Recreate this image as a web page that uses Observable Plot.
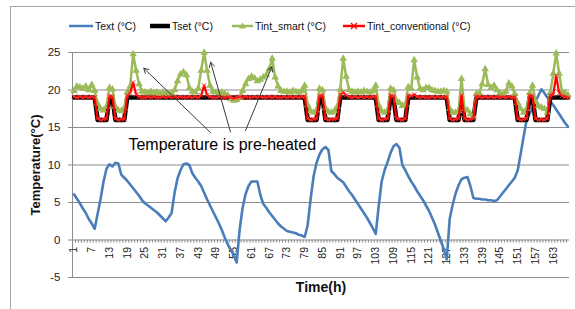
<!DOCTYPE html>
<html><head><meta charset="utf-8">
<script src="https://cdn.jsdelivr.net/npm/d3@7"></script>
<script src="https://cdn.jsdelivr.net/npm/@observablehq/plot@0.6"></script>
<style>
html,body{margin:0;padding:0;background:#fff;overflow:hidden;}
#wrap{position:relative;width:575px;height:309px;overflow:hidden;font-family:"Liberation Sans",Arial,sans-serif;background:#fff;}
#wrap > svg{position:absolute;left:0;top:0;}
#frame{position:absolute;left:10px;top:6px;width:580px;height:320px;border-left:1px solid #a6a6a6;border-top:1px solid #a6a6a6;pointer-events:none;}
.item{position:absolute;top:19px;display:flex;align-items:center;font-size:10.5px;line-height:14px;white-space:nowrap;color:#111;}
.item svg{margin-right:2px;display:block;}
</style></head><body>
<div id="wrap"><div id="frame"></div></div>
<script>
// ---- data ----
const hours = d3.range(1, 169);
const xTickLabels = [1,7,13,19,25,31,37,43,49,55,61,67,73,79,85,91,97,103,109,115,121,127,133,139,145,151,157,163];
const yTicks = [-5,0,5,10,15,20,25];
const seriesNames = ["Text (°C)", "Tset (°C)", "Tint_smart (°C)", "Tint_conventional (°C)"];

const textOut = [
  6.1,5.5,4.9,4.2,3.6,2.8,2.2,1.5,3.5,5.5,7.8,9.5,10.1,9.8,10.3,10.2,8.7,8.3,7.9,7.4,6.9,6.4,5.9,5.3,
  4.9,4.6,4.3,4.0,3.7,3.3,2.9,2.5,3.0,3.6,6.3,8.2,9.3,10.1,10.2,10.0,8.9,8.3,7.8,7.2,6.3,5.4,4.6,3.8,
  3.0,2.2,1.3,0.3,-0.6,-1.3,-2.0,-3.0,1.4,4.3,6.1,7.2,7.8,7.8,7.8,6.0,4.8,4.3,3.7,3.2,2.7,2.2,1.8,1.5,
  1.2,1.1,1.0,0.9,0.7,0.6,0.4,2.0,5.5,8.5,10.3,11.4,12.1,12.4,12.0,9.2,8.8,8.3,8.0,7.7,7.1,6.5,6.0,5.4,
  4.8,4.2,3.6,3.0,2.3,1.6,0.8,4.5,7.8,9.3,10.4,11.6,12.5,12.8,12.3,10.0,9.3,8.5,7.8,7.2,6.5,5.9,5.3,4.6,
  3.9,3.0,2.1,1.0,-0.1,-1.2,-2.6,2.8,4.7,6.2,7.3,8.1,8.3,8.4,7.2,5.6,5.5,5.5,5.4,5.4,5.3,5.3,5.2,5.3,
  5.8,6.3,6.8,7.3,7.8,8.3,9.3,11.5,13.8,16.0,16.8,17.6,18.4,19.3,20.1,19.6,19.0,18.5,18.0,17.4,16.8,16.2,15.6,15.1
];
const tSet = [
  19,19,19,19,19,19,19,19,16,16,16,16,19,19,16,16,16,16,19,19,19,19,19,19,
  19,19,19,19,19,19,19,19,19,19,19,19,19,19,19,19,19,19,19,19,19,19,19,19,
  19,19,19,19,19,19,19,19,19,19,19,19,19,19,19,19,19,19,19,19,19,19,19,19,
  19,19,19,19,19,19,19,16,16,16,16,19,19,16,16,16,16,16,19,19,19,19,19,19,
  19,19,19,19,19,19,19,16,16,16,16,19,19,16,16,16,16,19,19,19,19,19,19,19,
  19,19,19,19,19,19,19,16,16,16,16,19,16,16,16,16,19,19,19,19,19,19,19,19,
  19,19,19,19,19,19,16,16,16,16,19,19,16,16,16,16,16,19,19,19,19,19,19,19
];
const tIntSmart = [
  19.9,20.5,20.4,20.2,20.5,20.0,20.7,19.9,18.2,17.5,17.3,17.8,20.3,20.1,17.8,17.3,17.2,17.6,19.7,20.5,24.8,22.6,20.8,19.8,
  19.7,19.6,19.8,19.6,19.7,19.5,19.7,19.6,19.5,19.6,20.0,21.2,22.1,22.4,22.0,20.3,19.8,19.7,20.2,22.6,25.0,22.6,20.6,19.8,
  19.7,19.6,19.7,19.5,19.3,18.8,18.6,18.7,19.0,19.9,20.8,21.5,21.8,21.6,21.2,21.4,21.7,22.0,22.8,24.2,21.7,20.5,19.9,19.8,
  19.8,19.7,19.9,19.8,19.7,19.9,20.6,18.0,17.2,17.0,17.3,20.2,20.0,17.6,17.1,17.0,17.2,17.8,20.1,24.2,21.8,20.0,19.8,19.7,
  19.8,19.7,19.9,19.8,19.7,19.9,20.6,18.0,17.2,17.0,17.3,20.2,20.0,18.6,18.3,17.9,18.1,20.4,20.2,24.0,21.7,20.2,20.0,20.3,
  20.3,20.0,19.9,19.8,19.8,19.9,19.8,17.5,17.0,17.0,17.2,21.5,17.5,17.3,16.8,16.5,19.5,19.6,20.8,22.8,20.7,20.3,20.6,20.0,
  19.6,19.4,19.8,20.9,20.5,19.5,18.3,17.5,17.0,17.5,19.6,20.6,18.5,17.9,17.7,17.5,17.0,19.6,22.2,24.9,22.2,19.7,19.6,19.3
];
const tIntConv = [
  19.1,19.0,19.1,19.0,19.1,19.0,19.1,19.0,16.2,16.0,16.1,16.2,19.2,19.1,16.2,16.0,16.1,16.1,19.2,19.6,21.0,19.4,19.1,19.0,
  19.0,19.1,19.0,19.1,19.0,19.0,19.1,19.0,19.1,19.0,19.1,19.0,19.1,19.0,19.0,19.1,19.0,19.1,19.0,19.3,20.6,19.3,19.1,19.0,
  19.0,19.1,19.0,19.0,19.1,19.0,18.9,19.0,19.1,19.0,19.1,19.0,19.0,19.1,19.0,19.1,19.0,19.0,19.1,19.0,19.1,19.0,19.0,19.1,
  19.0,19.1,19.0,19.1,19.0,19.1,19.2,16.2,16.0,16.1,16.2,19.2,19.3,16.2,16.0,16.1,16.1,16.2,19.3,19.7,19.3,19.1,19.0,19.1,
  19.0,19.1,19.0,19.1,19.0,19.1,19.2,16.2,16.0,16.1,16.2,19.3,19.2,16.2,16.1,16.0,16.2,19.3,19.2,19.4,19.1,19.0,19.1,19.0,
  19.0,19.1,19.0,19.1,19.0,19.1,19.1,16.2,16.0,16.1,16.2,19.3,16.2,16.0,16.1,16.2,19.2,19.1,19.0,19.1,19.0,19.1,19.0,19.1,
  19.0,19.1,19.0,19.1,19.0,19.1,16.2,16.0,16.1,16.2,19.3,19.2,16.2,16.0,16.1,16.0,16.2,19.3,19.4,21.9,19.6,19.2,19.1,19.0
];
const annotationText = "Temperature is pre-heated";
const annotationAt = {h: 19.4, t: 12.74};
const arrows = [
  {h1: 47.2, t1: 14.3, h2: 24.6, t2: 22.9},
  {h1: 53.9, t1: 14.4, h2: 47.2, t2: 23.7},
  {h1: 59.0, t1: 14.6, h2: 67.9, t2: 23.1}
];

// ---- styles ----
const colors = ["#4a7ebb", "#000000", "#9bbb59", "#ff0000"];
const rows = hours.map((h, i) => ({h, text: textOut[i], set: tSet[i], smart: tIntSmart[i], conv: tIntConv[i]}));
const font = "Liberation Sans, Arial, sans-serif";

const chart = Plot.plot({
  width: 575, height: 309,
  marginLeft: 72, marginRight: 6, marginTop: 52, marginBottom: 32,
  style: {background: "transparent", fontFamily: font, fontSize: "11px", overflow: "visible", maxWidth: "none"},
  x: {domain: [0.5, 168.5], axis: null},
  y: {domain: [-5, 25], axis: null},
  marks: [
    Plot.ruleY(yTicks, {stroke: "#8c8c8c", strokeWidth: 1}),
    Plot.ruleX([0.5], {y1: -5, y2: 25, stroke: "#8c8c8c"}),
    Plot.axisY(yTicks, {tickSize: 4, tickPadding: 8, stroke: "#8c8c8c", fill: "#222", fontSize: 11.5, label: null, tickFormat: d => String(d)}),
    Plot.ruleX(hours, {x: d => d - 0.5, y1: 0, y2: -0.42, stroke: "#8c8c8c"}),
    Plot.text(xTickLabels, {x: d => d, y: 0, dy: 7, rotate: -90, textAnchor: "end", text: d => String(d), fontSize: 10.5, fill: "#222"}),
    Plot.line(rows, {x: "h", y: "text", stroke: colors[0], strokeWidth: 2.6}),
    Plot.line(rows, {x: "h", y: "set", stroke: colors[1], strokeWidth: 4.5, strokeLinejoin: "round"}),
    Plot.line(rows, {x: "h", y: "smart", stroke: colors[2], strokeWidth: 2.5}),
    Plot.dot(rows, {x: "h", y: "smart", symbol: "triangle", r: 2.8, fill: colors[2], stroke: "none"}),
    Plot.line(rows, {x: "h", y: "conv", stroke: colors[3], strokeWidth: 2.2}),
    Plot.dot(rows, {x: "h", y: "conv", symbol: "times", r: 2.2, stroke: "#ff3030", strokeWidth: 0.9}),
    Plot.arrow(arrows, {x1: "h1", y1: "t1", x2: "h2", y2: "t2", stroke: "#3a3a3a", strokeWidth: 1, headLength: 8}),
    Plot.text([annotationText], {x: annotationAt.h, y: annotationAt.t, text: d => d, textAnchor: "start", fontSize: 16, fill: "#000"}),
    Plot.text(["Temperature(°C)"], {frameAnchor: "left", dx: -37, rotate: -90, textAnchor: "middle", text: d => d, fontSize: 13, fontWeight: "bold", fill: "#111"}),
    Plot.text(["Time(h)"], {frameAnchor: "bottom", dy: 14, textAnchor: "middle", text: d => d, fontSize: 14, fontWeight: "bold", fill: "#111"})
  ]
});
const wrap = document.getElementById("wrap");
wrap.insertBefore(chart, wrap.firstChild);

// ---- legend ----
const legendLeft = [69, 150, 232, 343];
const swatchW = [24, 20, 21, 22];
seriesNames.forEach((name, i) => {
  const item = document.createElement("div");
  item.className = "item";
  item.style.left = legendLeft[i] + "px";
  const w = swatchW[i];
  const ns = "http://www.w3.org/2000/svg";
  const s = document.createElementNS(ns, "svg");
  s.setAttribute("width", w); s.setAttribute("height", 10);
  const ln = document.createElementNS(ns, "line");
  ln.setAttribute("x1", 0); ln.setAttribute("x2", w); ln.setAttribute("y1", 5); ln.setAttribute("y2", 5);
  ln.setAttribute("stroke", colors[i]);
  ln.setAttribute("stroke-width", i === 1 ? 4.5 : 2.5);
  if (i === 1) ln.setAttribute("stroke-linecap", "round");
  s.appendChild(ln);
  if (i === 2) {
    const p = document.createElementNS(ns, "path");
    const c = w / 2;
    p.setAttribute("d", `M${c},1.5L${c + 3.5},7.5L${c - 3.5},7.5Z`);
    p.setAttribute("fill", colors[2]);
    s.appendChild(p);
  }
  if (i === 3) {
    const p = document.createElementNS(ns, "path");
    const c = w / 2;
    p.setAttribute("d", `M${c - 3},2L${c + 3},8M${c - 3},8L${c + 3},2`);
    p.setAttribute("stroke", colors[3]); p.setAttribute("stroke-width", 1.2);
    s.appendChild(p);
  }
  item.appendChild(s);
  const t = document.createElement("span");
  t.textContent = name;
  item.appendChild(t);
  wrap.appendChild(item);
});
</script>
</body></html>
